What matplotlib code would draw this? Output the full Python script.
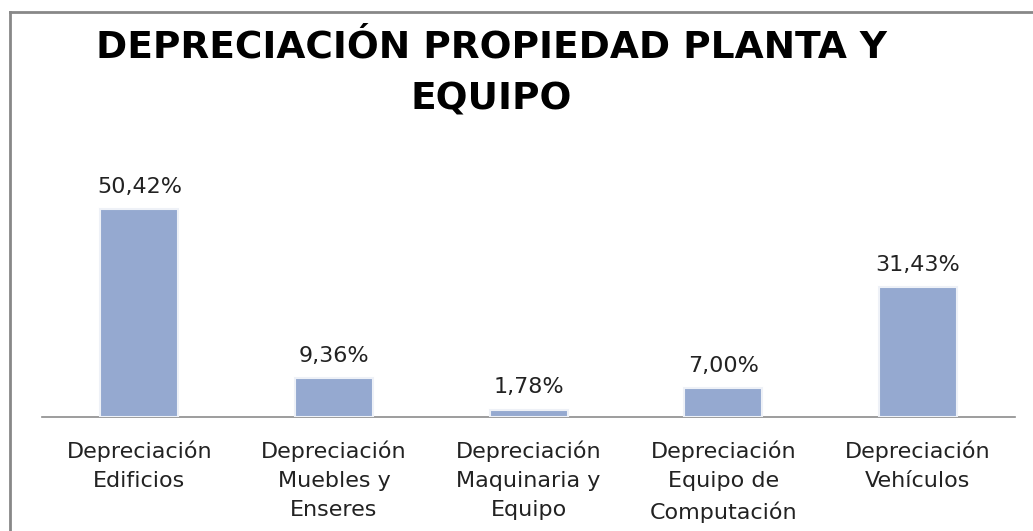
import matplotlib.pyplot as plt
import numpy as np

categorias = [
    "Depreciación\nEdificios",
    "Depreciación\nMuebles y\nEnseres",
    "Depreciación\nMaquinaria y\nEquipo",
    "Depreciación\nEquipo de\nComputación",
    "Depreciación\nVehículos",
]
porcentajes = [50.42, 9.36, 1.78, 7.00, 31.43]
etiquetas = ["50,42%", "9,36%", "1,78%", "7,00%", "31,43%"]

plt.rcParams['font.family'] = ['DejaVu Sans']

fig = plt.figure(figsize=(10.33, 5.31), dpi=100)
ax = fig.add_axes([0.0407, 0.2147, 0.942, 0.466])

x = np.arange(len(categorias))
bars = ax.bar(x, porcentajes, width=0.4, color='#95A9D0',
              edgecolor='#EEF1F7', linewidth=1.5, zorder=3)

for b, txt in zip(bars, etiquetas):
    ax.text(b.get_x() + b.get_width() / 2, b.get_height() + 3.0, txt,
            ha='center', va='bottom', fontsize=16, color='#222222')

ax.set_xlim(-0.5, len(categorias) - 0.5)
ax.set_ylim(0, 60)
ax.set_yticks([])
ax.set_xticks(x)
ax.set_xticklabels(categorias, fontsize=16, color='#222222', linespacing=1.57)
ax.tick_params(axis='x', length=0, pad=17)
for s in ['top', 'right', 'left']:
    ax.spines[s].set_visible(False)
ax.spines['bottom'].set_color('#8C8C8C')
ax.spines['bottom'].set_linewidth(1.2)

fig.text(0.4755, 1 - 110 / 531, "DEPRECIACIÓN PROPIEDAD PLANTA Y\nEQUIPO",
         ha='center', va='baseline', fontsize=27, fontweight='bold',
         linespacing=1.6, color='black')

# marco del gráfico
fig.add_artist(plt.Line2D([10 / 1033, 10 / 1033], [0, 1 - 12 / 531],
                          transform=fig.transFigure, color='#888888', lw=2))
fig.add_artist(plt.Line2D([10 / 1033, 1], [1 - 12 / 531, 1 - 12 / 531],
                          transform=fig.transFigure, color='#888888', lw=2))

fig.savefig('out.png', dpi=100)
